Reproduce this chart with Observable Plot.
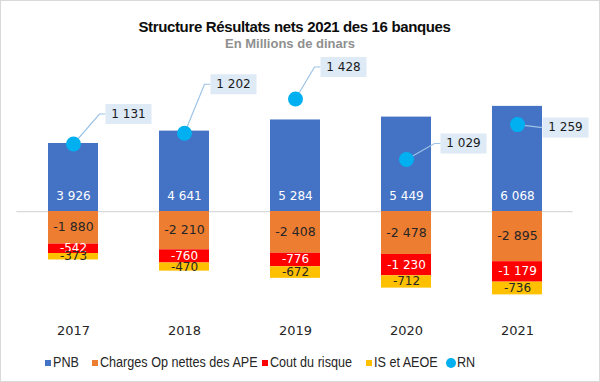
<!DOCTYPE html>
<html>
<head>
<meta charset="utf-8">
<script src="https://cdn.jsdelivr.net/npm/d3@7"></script>
<script src="https://cdn.jsdelivr.net/npm/@observablehq/plot@0.6"></script>
<style>
  body { margin: 0; background: #fff; }
  #wrap { position: relative; width: 600px; height: 382px; background: #fff; overflow: hidden; }
  #frame { position: absolute; left: 0; top: 0; width: 598px; height: 380px; border: 1px solid #d9d9d9; pointer-events: none; }
  #title { position: absolute; left: 0; top: 18px; width: 589px; text-align: center; font: bold 15px "Liberation Sans", Arial, sans-serif; letter-spacing: -0.35px; color: #0d0d0d; line-height: 17px; }
  #subtitle { position: absolute; left: 0; top: 36px; width: 580px; text-align: center; font: bold 13px "Liberation Sans", Arial, sans-serif; color: #8f8f8f; line-height: 16px; }
  #chart { position: absolute; left: 0; top: 55px; }
  .leg { position: absolute; top: 354px; height: 16px; line-height: 16px; font: 14px "Liberation Sans", Arial, sans-serif; color: #262626; white-space: nowrap; }
  .lt { display: inline-block; transform: scaleX(0.9); transform-origin: left center; }
  .sw { display: inline-block; width: 6px; height: 6px; margin-right: 2px; vertical-align: 1px; }
  .ci { display: inline-block; width: 10px; height: 10px; border-radius: 50%; margin-right: 1px; vertical-align: -1px; }
</style>
</head>
<body>
<div id="wrap">
  <div id="title">Structure Résultats nets 2021 des 16 banques</div>
  <div id="subtitle">En Millions de dinars</div>
  <div id="chart"></div>
  <div id="legend"></div>
  <div id="frame"></div>
</div>
<script>
// ---- Data ----
const years = ["2017", "2018", "2019", "2020", "2021"];
const pnb = [3926, 4641, 5284, 5449, 6068];
const charges = [-1880, -2210, -2408, -2478, -2895];
const cout = [-542, -760, -776, -1230, -1179];
const isAeoe = [-373, -470, -672, -712, -736];
const rn = [1131, 1202, 1428, 1029, 1259];
const seriesNames = ["PNB", "Charges Op nettes des APE", "Cout du risque", "IS et AEOE", "RN"];

// ---- Styles / layout ----
const colors = ["#4472C4", "#ED7D31", "#FF0000", "#FFC000", "#00B0F0"];
const calloutOffsets = [[55, -30], [49, -49], [48, -32], [57, -16], [48, 3]];
const legendLeft = [45, 92, 262, 366, 446];

const fmt = d3.formatLocale({decimal: ",", thousands: " ", grouping: [3], minus: "-"}).format(",");

// table built from the arrays
const seriesValues = [pnb, charges, cout, isAeoe];
const rows = [];
seriesValues.forEach((vals, s) => {
  vals.forEach((v, i) => rows.push({year: years[i], series: seriesNames[s], value: v}));
});
const negRows = rows.filter(d => d.series !== "PNB");

// secondary axis for RN (Excel-style secondary scale mapped onto primary)
const yDomain = [-6000, 8000];
const rnAxis = d3.scaleLinear([0, 1600], yDomain);
const rnRows = years.map((y, i) => ({year: y, rn: rn[i], yv: rnAxis(rn[i])}));

const labelFont = "DejaVu Sans";

const marks = [
  Plot.ruleY([0], {stroke: "#d9d9d9", strokeWidth: 1.2}),
  Plot.barY(rows, {x: "year", y: "value", fill: "series"}),
  Plot.text(years, {x: d => d, y: () => 0, text: (d, i) => fmt(pnb[i]), dy: -15, fill: "white", fontSize: 12, fontFamily: labelFont}),
];
const textFills = {"Charges Op nettes des APE": "#262626", "Cout du risque": "white", "IS et AEOE": "#262626"};
const textSizes = {"Charges Op nettes des APE": 12.5, "Cout du risque": 12, "IS et AEOE": 12};
for (const s of seriesNames.slice(1, 4)) {
  marks.push(Plot.text(negRows, Plot.stackY({
    x: "year", y: "value", z: "series",
    text: d => d.series === s ? fmt(d.value) : "",
    fill: textFills[s], fontSize: textSizes[s], fontFamily: labelFont, lineHeight: 0.9
  })));
}
// callouts for RN
rnRows.forEach((d, i) => {
  const [ox, oy] = calloutOffsets[i];
  const bw = 46, bh = 20;
  const left = ox - bw / 2;
  const leader = {draw(ctx) {
    ctx.moveTo(0, 0);
    if (Math.abs(oy) > 4) { ctx.lineTo(left - 6, oy); }
    ctx.lineTo(left, oy);
  }};
  const box = {draw(ctx) { ctx.rect(-bw / 2, -bh / 2, bw, bh); }};
  marks.push(Plot.dot([d], {x: "year", y: "yv", symbol: leader, r: 5, fill: "none", stroke: "#9DC3E6", strokeWidth: 1.2}));
  marks.push(Plot.dot([d], {x: "year", y: "yv", symbol: box, r: 5, fill: "#DEEAF6", stroke: "none", dx: ox, dy: oy}));
  marks.push(Plot.text([d], {x: "year", y: "yv", text: r => fmt(r.rn), dx: ox, dy: oy, fill: "#1a1a1a", fontSize: 12, fontFamily: labelFont}));
});
marks.push(Plot.dot(rnRows, {x: "year", y: "yv", r: 7.5, fill: colors[4], stroke: "none"}));

const chart = Plot.plot({
  width: 600,
  height: 290,
  marginTop: 17.4,
  marginBottom: 30,
  marginLeft: 16.4,
  marginRight: 27.3,
  x: {domain: years, paddingInner: 0.55, paddingOuter: 0.275, tickSize: 0, tickPadding: 10, label: null},
  y: {domain: yDomain, axis: null},
  color: {domain: seriesNames.slice(0, 4), range: colors.slice(0, 4)},
  style: {fontFamily: labelFont, fontSize: "13px", color: "#262626", background: "transparent"},
  marks
});
document.getElementById("chart").appendChild(chart);

// legend
const legend = document.getElementById("legend");
seriesNames.forEach((name, i) => {
  const item = document.createElement("div");
  item.className = "leg";
  item.style.left = legendLeft[i] + "px";
  const sw = document.createElement("span");
  sw.className = i === 4 ? "ci" : "sw";
  sw.style.background = colors[i];
  item.appendChild(sw);
  const t = document.createElement("span");
  t.className = "lt";
  t.textContent = name;
  item.appendChild(t);
  legend.appendChild(item);
});
</script>
</body>
</html>
